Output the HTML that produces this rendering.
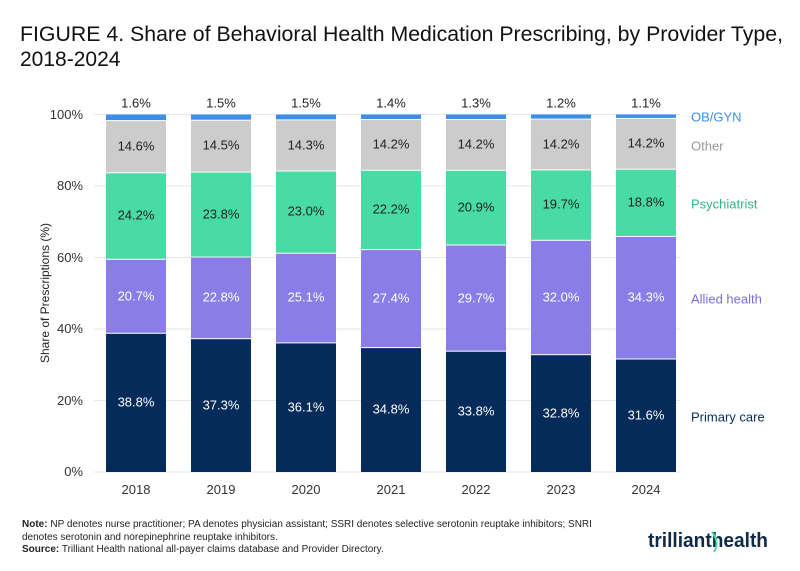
<!DOCTYPE html>
<html><head><meta charset="utf-8"><style>
body{margin:0;background:#fff;}
svg{display:block;font-family:"Liberation Sans",sans-serif;}
</style></head><body>
<svg width="800" height="571" viewBox="0 0 800 571" xmlns="http://www.w3.org/2000/svg">
<text x="20" y="41" font-size="21" fill="#111" textLength="763" lengthAdjust="spacingAndGlyphs">FIGURE 4. Share of Behavioral Health Medication Prescribing, by Provider Type,</text>
<text x="20" y="66" font-size="21" fill="#111">2018-2024</text>
<g stroke="#e6e6e6" stroke-width="1">
<line x1="94" x2="680" y1="114.5" y2="114.5"/><line x1="94" x2="680" y1="186" y2="186"/>
<line x1="94" x2="680" y1="257.5" y2="257.5"/><line x1="94" x2="680" y1="329" y2="329"/>
<line x1="94" x2="680" y1="400.5" y2="400.5"/><line x1="94" x2="680" y1="472" y2="472"/>
</g>
<g font-size="13" fill="#333" text-anchor="end">
<text x="83" y="119">100%</text><text x="83" y="190">80%</text><text x="83" y="262">60%</text>
<text x="83" y="333">40%</text><text x="83" y="405">20%</text><text x="83" y="476">0%</text>
</g>
<text transform="translate(49,293) rotate(-90)" font-size="12" fill="#222" text-anchor="middle">Share of Prescriptions (%)</text>
<g id="bars">
<rect x="106" y="333.8" width="60" height="138.2" fill="#052b5b"/>
<rect x="106" y="259.8" width="60" height="73" fill="#8a7de8"/>
<rect x="106" y="173.3" width="60" height="85.5" fill="#48dba6"/>
<rect x="106" y="121.1" width="60" height="51.2" fill="#cccccc"/>
<rect x="106" y="114.5" width="60" height="5.6" fill="#3b8fe8"/>
<rect x="191" y="339.2" width="60" height="132.8" fill="#052b5b"/>
<rect x="191" y="257.6" width="60" height="80.6" fill="#8a7de8"/>
<rect x="191" y="172.6" width="60" height="84" fill="#48dba6"/>
<rect x="191" y="120.7" width="60" height="50.9" fill="#cccccc"/>
<rect x="191" y="114.5" width="60" height="5.2" fill="#3b8fe8"/>
<rect x="276" y="343.4" width="60" height="128.6" fill="#052b5b"/>
<rect x="276" y="253.7" width="60" height="88.7" fill="#8a7de8"/>
<rect x="276" y="171.5" width="60" height="81.2" fill="#48dba6"/>
<rect x="276" y="120.4" width="60" height="50.1" fill="#cccccc"/>
<rect x="276" y="114.5" width="60" height="4.9" fill="#3b8fe8"/>
<rect x="361" y="348.1" width="60" height="123.9" fill="#052b5b"/>
<rect x="361" y="250.1" width="60" height="97" fill="#8a7de8"/>
<rect x="361" y="170.8" width="60" height="78.3" fill="#48dba6"/>
<rect x="361" y="120" width="60" height="49.8" fill="#cccccc"/>
<rect x="361" y="114.5" width="60" height="4.5" fill="#3b8fe8"/>
<rect x="446" y="351.7" width="60" height="120.3" fill="#052b5b"/>
<rect x="446" y="245.5" width="60" height="105.2" fill="#8a7de8"/>
<rect x="446" y="170.8" width="60" height="73.7" fill="#48dba6"/>
<rect x="446" y="120" width="60" height="49.8" fill="#cccccc"/>
<rect x="446" y="114.5" width="60" height="4.5" fill="#3b8fe8"/>
<rect x="531" y="355.2" width="60" height="116.8" fill="#052b5b"/>
<rect x="531" y="240.8" width="60" height="113.4" fill="#8a7de8"/>
<rect x="531" y="170.4" width="60" height="69.4" fill="#48dba6"/>
<rect x="531" y="119.6" width="60" height="49.8" fill="#cccccc"/>
<rect x="531" y="114.5" width="60" height="4.1" fill="#3b8fe8"/>
<rect x="616" y="359.5" width="60" height="112.5" fill="#052b5b"/>
<rect x="616" y="236.9" width="60" height="121.6" fill="#8a7de8"/>
<rect x="616" y="169.7" width="60" height="66.2" fill="#48dba6"/>
<rect x="616" y="118.9" width="60" height="49.8" fill="#cccccc"/>
<rect x="616" y="114.5" width="60" height="3.4" fill="#3b8fe8"/>
</g>
<g font-size="13" text-anchor="middle" dominant-baseline="middle">
<g fill="#222">
<text x="136" y="104">1.6%</text><text x="221" y="104">1.5%</text><text x="306" y="104">1.5%</text><text x="391" y="104">1.4%</text><text x="476" y="104">1.3%</text><text x="561" y="104">1.2%</text><text x="646" y="104">1.1%</text>
<text x="136" y="147">14.6%</text><text x="221" y="146">14.5%</text><text x="306" y="146">14.3%</text><text x="391" y="145">14.2%</text><text x="476" y="145">14.2%</text><text x="561" y="145">14.2%</text><text x="646" y="144">14.2%</text>
<text x="136" y="216">24.2%</text><text x="221" y="215">23.8%</text><text x="306" y="212">23.0%</text><text x="391" y="210">22.2%</text><text x="476" y="208">20.9%</text><text x="561" y="205">19.7%</text><text x="646" y="203">18.8%</text>
</g>
<g fill="#fff">
<text x="136" y="297">20.7%</text><text x="221" y="298">22.8%</text><text x="306" y="298">25.1%</text><text x="391" y="299">27.4%</text><text x="476" y="299">29.7%</text><text x="561" y="298">32.0%</text><text x="646" y="298">34.3%</text>
<text x="136" y="403">38.8%</text><text x="221" y="406">37.3%</text><text x="306" y="408">36.1%</text><text x="391" y="410">34.8%</text><text x="476" y="412">33.8%</text><text x="561" y="414">32.8%</text><text x="646" y="416">31.6%</text>
</g>
</g>
<g font-size="13" fill="#333" text-anchor="middle">
<text x="136" y="494">2018</text><text x="221" y="494">2019</text><text x="306" y="494">2020</text><text x="391" y="494">2021</text><text x="476" y="494">2022</text><text x="561" y="494">2023</text><text x="646" y="494">2024</text>
</g>
<g font-size="13" dominant-baseline="middle">
<text x="691" y="118" fill="#3b8fe8">OB/GYN</text>
<text x="691" y="147" fill="#999">Other</text>
<text x="691" y="205" fill="#2bb583">Psychiatrist</text>
<text x="691" y="300" fill="#7a6de0">Allied health</text>
<text x="691" y="418" fill="#052b5b">Primary care</text>
</g>
<g font-size="10" fill="#222">
<text x="22" y="527"><tspan font-weight="bold">Note:</tspan> NP denotes nurse practitioner; PA denotes physician assistant; SSRI denotes selective serotonin reuptake inhibitors; SNRI</text>
<text x="22" y="540">denotes serotonin and norepinephrine reuptake inhibitors.</text>
<text x="22" y="552"><tspan font-weight="bold">Source:</tspan> Trilliant Health national all-payer claims database and Provider Directory.</text>
</g>
<text x="648" y="547" font-size="20" font-weight="bold" fill="#0f2a45" textLength="120" lengthAdjust="spacingAndGlyphs">trilliant<tspan>health</tspan></text>
<path d="M712 532 Q720 542 714 552" stroke="#48dba6" stroke-width="2" fill="none"/>
</svg>
</body></html>
